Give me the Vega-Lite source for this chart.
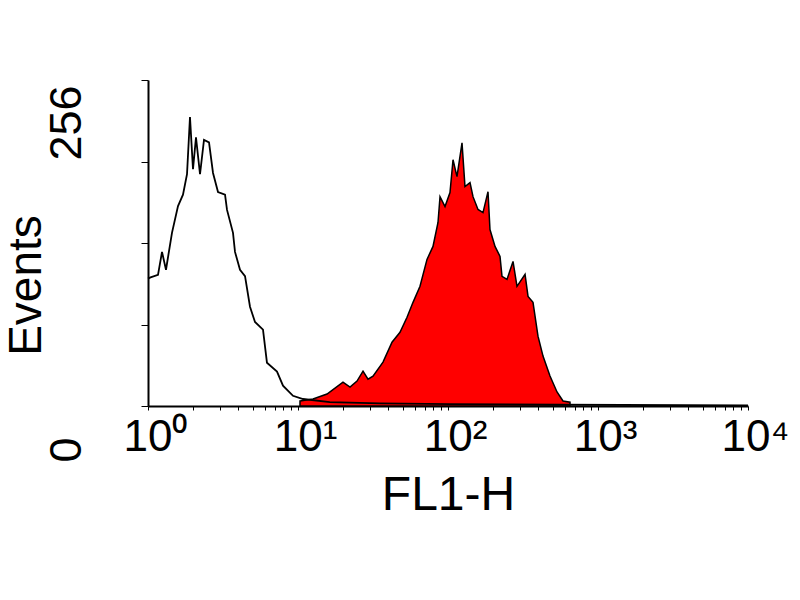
{
  "$schema": "https://vega.github.io/schema/vega-lite/v6.json",
  "autosize": {"type": "none"},
  "padding": {"left": 148, "top": 80, "right": 52, "bottom": 194},
  "width": 600,
  "height": 326,
  "background": "white",
  "config": {"view": {"stroke": null}},
  "datasets": {
    "control": [
      {"fl1": 1.0, "events": 100}, {"fl1": 1.04, "events": 101}, {"fl1": 1.166, "events": 103}, {"fl1": 1.24, "events": 121},
      {"fl1": 1.318, "events": 107}, {"fl1": 1.445, "events": 136}, {"fl1": 1.585, "events": 157},
      {"fl1": 1.711, "events": 166}, {"fl1": 1.82, "events": 182}, {"fl1": 1.905, "events": 227},
      {"fl1": 1.995, "events": 186}, {"fl1": 2.089, "events": 211}, {"fl1": 2.222, "events": 182},
      {"fl1": 2.362, "events": 209}, {"fl1": 2.551, "events": 207}, {"fl1": 2.713, "events": 183},
      {"fl1": 2.929, "events": 168}, {"fl1": 3.262, "events": 166}, {"fl1": 3.364, "events": 154},
      {"fl1": 3.687, "events": 136}, {"fl1": 3.802, "events": 121}, {"fl1": 4.106, "events": 107},
      {"fl1": 4.434, "events": 102}, {"fl1": 4.786, "events": 78}, {"fl1": 5.168, "events": 66},
      {"fl1": 5.843, "events": 60}, {"fl1": 6.21, "events": 34}, {"fl1": 7.244, "events": 27},
      {"fl1": 7.943, "events": 16}, {"fl1": 9.261, "events": 8}, {"fl1": 10.8, "events": 5.5},
      {"fl1": 16.3, "events": 3}, {"fl1": 35.2, "events": 2}, {"fl1": 103, "events": 1.5},
      {"fl1": 558, "events": 1}, {"fl1": 10000, "events": 0.5}
    ],
    "stained": [
      {"fl1": 10.31, "events": 4}, {"fl1": 12.59, "events": 5.5}, {"fl1": 15.61, "events": 9.4},
      {"fl1": 19.95, "events": 18.8}, {"fl1": 22.22, "events": 14.9}, {"fl1": 24.74, "events": 19.6},
      {"fl1": 27.13, "events": 27.4}, {"fl1": 29.29, "events": 21.1}, {"fl1": 31.62, "events": 23.5},
      {"fl1": 36.87, "events": 34.5}, {"fl1": 42.34, "events": 50.1}, {"fl1": 47.86, "events": 57.9},
      {"fl1": 53.31, "events": 69.7}, {"fl1": 58.45, "events": 81.4}, {"fl1": 65.07, "events": 94},
      {"fl1": 72.44, "events": 115.1}, {"fl1": 79.43, "events": 125.3}, {"fl1": 85.77, "events": 144.1},
      {"fl1": 88.47, "events": 164.4}, {"fl1": 95.5, "events": 156.6}, {"fl1": 103.1, "events": 167.6},
      {"fl1": 108, "events": 193.4}, {"fl1": 114.8, "events": 180.1}, {"fl1": 124, "events": 206.7},
      {"fl1": 129.8, "events": 172.3}, {"fl1": 140.2, "events": 175.4}, {"fl1": 146.8, "events": 164.4},
      {"fl1": 158.5, "events": 154.3}, {"fl1": 171.1, "events": 151.9}, {"fl1": 184.8, "events": 168.3},
      {"fl1": 190.5, "events": 138.6}, {"fl1": 205.8, "events": 125.3}, {"fl1": 222.2, "events": 117.5},
      {"fl1": 229.1, "events": 101.8}, {"fl1": 247.4, "events": 99.4}, {"fl1": 271.3, "events": 113.5},
      {"fl1": 288.4, "events": 94}, {"fl1": 326.3, "events": 103.4}, {"fl1": 341.6, "events": 86.1},
      {"fl1": 368.7, "events": 81.4}, {"fl1": 398.1, "events": 54.8}, {"fl1": 429.9, "events": 39.2},
      {"fl1": 478.6, "events": 23.5}, {"fl1": 533.1, "events": 11}, {"fl1": 584.5, "events": 3.9},
      {"fl1": 650.7, "events": 3}
    ]
  },
  "encoding": {
    "x": {
      "field": "fl1", "type": "quantitative",
      "scale": {"type": "log", "domain": [1, 10000], "nice": false},
      "axis": {
        "title": "FL1-H",
        "values": [1,2,3,4,5,6,7,8,9,10,20,30,40,50,60,70,80,90,100,200,300,400,500,600,700,800,900,1000,2000,3000,4000,5000,6000,7000,8000,9000,10000],
        "labelExpr": "datum.value == 1 ? '10⁰' : datum.value == 10 ? '10¹' : datum.value == 100 ? '10²' : datum.value == 1000 ? '10³' : datum.value == 10000 ? '10⁴' : ''",
        "labelFont": "Liberation Sans",
        "labelFontSize": 44,
        "labelColor": "black",
        "labelAlign": "center",
        "labelOffset": 7,
        "labelBaseline": "top",
        "labelPadding": 5,
        "labelOverlap": false,
        "labelFlush": false,
        "tickSize": 4,
        "tickColor": "black",
        "tickWidth": 1,
        "domainColor": "black",
        "domainWidth": 2,
        "grid": false,
        "titleFont": "Liberation Sans",
        "titleFontSize": 48,
        "titleFontWeight": "normal",
        "titleColor": "black",
        "titlePadding": 12
      }
    },
    "y": {
      "field": "events", "type": "quantitative",
      "scale": {"domain": [0, 256], "nice": false},
      "axis": {
        "title": "Events",
        "values": [0, 64, 128, 192, 256],
        "labelExpr": "datum.value == 0 || datum.value == 256 ? datum.label : ''",
        "labelFont": "Liberation Sans",
        "labelFontSize": 45,
        "labelColor": "black",
        "labelAngle": -90,
        "labelAlign": "right",
        "labelBaseline": "alphabetic",
        "labelOffset": {"expr": "datum.value == 0 ? 31 : 5"},
        "labelPadding": 61,
        "labelOverlap": false,
        "labelFlush": false,
        "tickSize": 7,
        "tickColor": "black",
        "domainColor": "black",
        "domainWidth": 2,
        "grid": false,
        "titleFont": "Liberation Sans",
        "titleFontSize": 46,
        "titleFontWeight": "normal",
        "titleColor": "black",
        "titleAngle": -90,
        "titleAlign": "center",
        "titleBaseline": "alphabetic",
        "titleX": -108,
        "titleY": 205
      }
    }
  },
  "layer": [
    {
      "data": {"name": "stained"},
      "mark": {"type": "area", "color": "#ff0000", "stroke": "black", "strokeWidth": 1.5, "interpolate": "linear"}
    },
    {
      "data": {"name": "control"},
      "mark": {"type": "line", "color": "black", "strokeWidth": 1.8, "interpolate": "linear"}
    }
  ]
}
